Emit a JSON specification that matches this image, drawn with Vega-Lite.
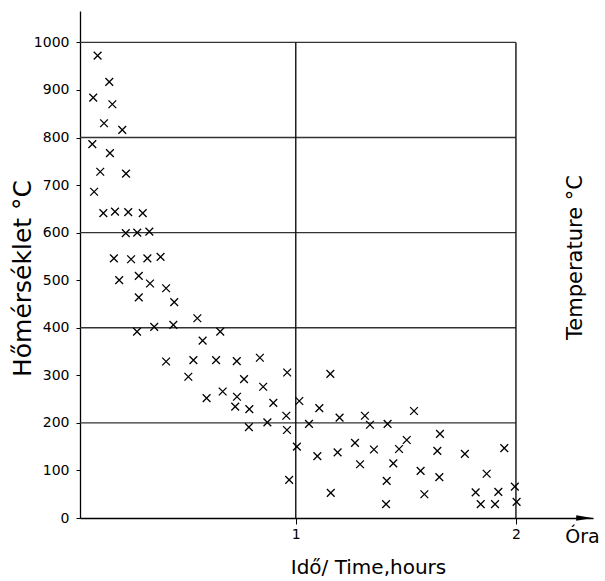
{
  "$schema": "https://vega.github.io/schema/vega-lite/v6.json",
  "autosize": {"type": "none"},
  "width": 513,
  "height": 507,
  "padding": {"left": 80, "top": 11, "right": 12, "bottom": 63},
  "background": "white",
  "config": {
    "view": {"stroke": null},
    "font": "DejaVu Sans",
    "axis": {"labelFont": "DejaVu Sans", "titleFont": "DejaVu Sans", "titleFontWeight": "normal", "labelColor": "black", "titleColor": "black", "domainColor": "black", "tickColor": "black", "grid": false}
  },
  "datasets": {
    "points": [
      {"t": 0.100, "v": 972}, {"t": 0.153, "v": 917}, {"t": 0.080, "v": 884}, {"t": 0.167, "v": 870},
      {"t": 0.129, "v": 830}, {"t": 0.212, "v": 816}, {"t": 0.076, "v": 786}, {"t": 0.156, "v": 767},
      {"t": 0.112, "v": 728}, {"t": 0.229, "v": 724}, {"t": 0.084, "v": 686}, {"t": 0.126, "v": 641},
      {"t": 0.179, "v": 644}, {"t": 0.239, "v": 643}, {"t": 0.305, "v": 641}, {"t": 0.228, "v": 599},
      {"t": 0.280, "v": 600}, {"t": 0.335, "v": 602}, {"t": 0.174, "v": 546}, {"t": 0.252, "v": 544},
      {"t": 0.326, "v": 546}, {"t": 0.386, "v": 549}, {"t": 0.198, "v": 500}, {"t": 0.287, "v": 509},
      {"t": 0.338, "v": 493}, {"t": 0.287, "v": 464}, {"t": 0.411, "v": 483}, {"t": 0.448, "v": 454},
      {"t": 0.279, "v": 392}, {"t": 0.357, "v": 402}, {"t": 0.444, "v": 406}, {"t": 0.553, "v": 420},
      {"t": 0.577, "v": 373}, {"t": 0.657, "v": 392}, {"t": 0.411, "v": 329}, {"t": 0.535, "v": 332},
      {"t": 0.638, "v": 332}, {"t": 0.732, "v": 330}, {"t": 0.837, "v": 337}, {"t": 0.512, "v": 297},
      {"t": 0.765, "v": 292}, {"t": 0.852, "v": 276}, {"t": 0.961, "v": 306}, {"t": 1.157, "v": 303},
      {"t": 0.595, "v": 252}, {"t": 0.668, "v": 266}, {"t": 0.733, "v": 255}, {"t": 0.725, "v": 234},
      {"t": 0.789, "v": 229}, {"t": 0.898, "v": 242}, {"t": 1.016, "v": 246}, {"t": 1.107, "v": 231},
      {"t": 0.957, "v": 215}, {"t": 0.787, "v": 191}, {"t": 0.871, "v": 201}, {"t": 0.960, "v": 185},
      {"t": 1.060, "v": 198}, {"t": 1.199, "v": 211}, {"t": 1.005, "v": 150}, {"t": 1.098, "v": 130},
      {"t": 1.190, "v": 138}, {"t": 0.970, "v": 80}, {"t": 1.159, "v": 53}, {"t": 1.314, "v": 215},
      {"t": 1.337, "v": 196}, {"t": 1.417, "v": 198}, {"t": 1.537, "v": 225}, {"t": 1.655, "v": 177},
      {"t": 1.504, "v": 164}, {"t": 1.269, "v": 158}, {"t": 1.355, "v": 144}, {"t": 1.469, "v": 145},
      {"t": 1.643, "v": 141}, {"t": 1.768, "v": 135}, {"t": 1.947, "v": 147}, {"t": 1.292, "v": 113},
      {"t": 1.443, "v": 115}, {"t": 1.567, "v": 99}, {"t": 1.652, "v": 86}, {"t": 1.867, "v": 93},
      {"t": 1.995, "v": 66}, {"t": 1.413, "v": 78}, {"t": 1.584, "v": 50}, {"t": 1.817, "v": 54},
      {"t": 1.920, "v": 55}, {"t": 1.410, "v": 29}, {"t": 1.840, "v": 29}, {"t": 1.905, "v": 29},
      {"t": 2.003, "v": 34}
    ],
    "hgrid": [{"v": 200}, {"v": 400}, {"v": 600}, {"v": 800}, {"v": 1000}],
    "vgrid": [{"t": 1}, {"t": 2}],
    "arrow": [{"t": 2.31, "v": 0}]
  },
  "layer": [
    {
      "data": {"name": "hgrid"},
      "mark": {"type": "rule", "color": "#333333", "strokeWidth": 1.4},
      "encoding": {
        "y": {"field": "v", "type": "quantitative", "scale": {"domain": [0, 1066], "nice": false, "zero": false},
          "axis": {"orient": "right", "labels": false, "ticks": false, "domain": false, "title": "Temperature °C", "titleFontSize": 21, "titleAngle": 270, "titleX": -18, "titleY": 246, "titleAlign": "center", "titleBaseline": "middle"}},
        "x": {"datum": 0.02, "type": "quantitative", "scale": {"domain": [0.02, 2.35], "nice": false, "zero": false}, "axis": null},
        "x2": {"datum": 2}
      }
    },
    {
      "data": {"name": "vgrid"},
      "mark": {"type": "rule", "color": "#111111", "strokeWidth": 1.4},
      "encoding": {
        "x": {"field": "t", "type": "quantitative", "scale": {"domain": [0.02, 2.35], "nice": false, "zero": false}, "axis": null},
        "y": {"datum": 0, "type": "quantitative", "scale": {"domain": [0, 1066], "nice": false, "zero": false}, "axis": null},
        "y2": {"datum": 1000}
      }
    },
    {
      "data": {"name": "points"},
      "mark": {"type": "point", "shape": "M-1,-1L1,1M-1,1L1,-1", "filled": false, "stroke": "black", "strokeWidth": 1.3, "size": 60, "opacity": 1},
      "encoding": {
        "x": {"field": "t", "type": "quantitative", "scale": {"domain": [0.02, 2.35], "nice": false, "zero": false},
          "axis": {"values": [1, 2, 2.3], "labelExpr": "datum.value > 2.1 ? 'Óra' : format(datum.value, 'd')", "labelFlush": false, "tickSize": 6, "labelPadding": 3, "labelFontSize": {"condition": {"test": "datum.value > 2.1", "value": 19}, "value": 14}, "tickOpacity": {"condition": {"test": "datum.value > 2.1", "value": 0}, "value": 1}, "domainWidth": 1.3, "title": "Idő/ Time,hours", "titleFontSize": 20, "titleX": 288, "titleY": 49, "titleAlign": "center", "titleBaseline": "middle"}},
        "y": {"field": "v", "type": "quantitative", "scale": {"domain": [0, 1066], "nice": false, "zero": false},
          "axis": {"values": [0, 100, 200, 300, 400, 500, 600, 700, 800, 900, 1000], "format": "d", "tickSize": 4, "labelPadding": 7, "labelFontSize": 14, "domainWidth": 1.3, "title": "Hőmérséklet °C", "titleFontSize": 25, "titleAngle": 270, "titleX": -58, "titleY": 267, "titleAlign": "center", "titleBaseline": "middle"}}
      }
    },
    {
      "data": {"name": "arrow"},
      "mark": {"type": "point", "shape": "M-1,-0.35L1,0L-1,0.35Z", "filled": true, "color": "black", "size": 256, "opacity": 1},
      "encoding": {
        "x": {"field": "t", "type": "quantitative", "scale": {"domain": [0.02, 2.35], "nice": false, "zero": false}, "axis": null},
        "y": {"field": "v", "type": "quantitative", "scale": {"domain": [0, 1066], "nice": false, "zero": false}, "axis": null}
      }
    }
  ],
  "resolve": {"axis": {"x": "independent", "y": "independent"}}
}
